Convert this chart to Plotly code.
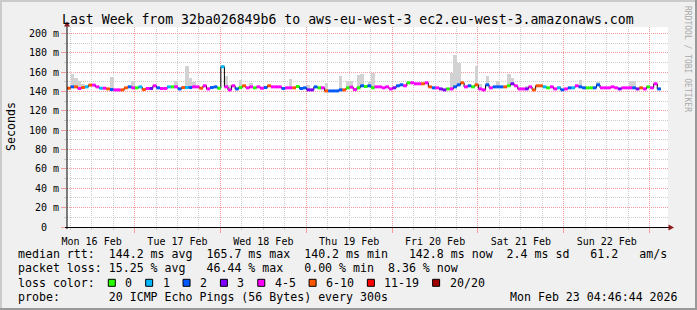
import plotly.graph_objects as go
import pandas as pd

# ---------------- data ----------------
title_text = "Last Week from 32ba026849b6 to aws-eu-west-3 ec2.eu-west-3.amazonaws.com"
start = pd.Timestamp("2026-02-16 05:07")
end = start + pd.Timedelta(days=7)

# hourly median rtt (ms)
median = [
    143.5, 144.9, 144.9, 143.2, 144.2, 144.9, 146.7, 146.7, 144.9, 143.5,
    143.5, 142.8, 142.1, 141.8, 141.8, 141.8, 143.9, 144.9, 143.9, 143.9,
    144.9, 142.1, 143.2, 143.2, 146.0, 143.9, 143.2, 143.2, 144.9, 144.9,
    144.9, 142.8, 144.2, 144.2, 144.2, 144.9, 144.9, 143.5, 146.0, 142.8,
    144.2, 144.9, 143.5, 165.7, 144.9, 141.8, 146.0, 142.8, 144.2, 146.0,
    143.9, 144.9, 143.9, 144.9, 143.5, 144.2, 146.0, 144.9, 144.9, 144.9,
    143.2, 143.9, 143.9, 143.9, 145.3, 143.2, 143.9, 141.8, 141.8, 144.9,
    143.9, 143.9, 140.7, 140.7, 140.7, 140.7, 141.8, 141.8, 143.9, 144.6,
    142.1, 143.9, 146.0, 145.3, 146.0, 143.9, 144.9, 144.9, 143.9, 144.9,
    142.8, 143.9, 146.0, 147.0, 146.0, 149.1, 149.1, 148.1, 148.1, 148.1,
    149.1, 144.9, 143.9, 143.9, 142.8, 141.8, 142.8, 142.8, 144.9, 147.0,
    149.1, 144.9, 146.0, 144.9, 147.0, 142.8, 141.8, 147.0, 143.9, 144.9,
    144.9, 144.9, 144.9, 146.0, 148.1, 146.0, 142.8, 142.8, 142.8, 144.9,
    141.8, 146.0, 146.0, 144.9, 143.9, 144.9, 142.8, 143.9, 141.8, 142.8,
    143.9, 143.9, 146.0, 144.9, 143.9, 143.9, 143.9, 143.9, 147.0, 143.9,
    143.9, 143.9, 144.9, 143.9, 142.8, 143.9, 143.9, 143.9, 143.9, 142.8,
    143.9, 142.8, 144.9, 143.9, 148.1, 142.8,
]

# hourly loss class (index into loss_labels)
loss = [
    5, 2, 5, 4, 5, 1, 5, 4, 4, 1,
    4, 5, 2, 4, 4, 5, 5, 2, 4, 0,
    1, 5, 4, 3, 4, 2, 4, 4, 1, 0,
    4, 2, 5, 1, 2, 4, 4, 5, 4, 4,
    2, 2, 0, 1, 4, 4, 4, 2, 0, 5,
    4, 4, 0, 4, 4, 2, 5, 4, 4, 4,
    2, 4, 4, 5, 0, 2, 2, 3, 3, 2,
    0, 4, 5, 2, 2, 2, 2, 5, 0, 4,
    4, 0, 2, 0, 2, 0, 4, 4, 4, 4,
    4, 3, 2, 2, 4, 0, 4, 4, 4, 5,
    4, 5, 2, 4, 3, 3, 0, 4, 2, 2,
    5, 4, 2, 0, 5, 4, 4, 2, 4, 2,
    2, 2, 5, 0, 3, 4, 4, 4, 3, 4,
    5, 5, 5, 1, 0, 4, 4, 1, 2, 4,
    2, 1, 4, 2, 2, 0, 0, 2, 2, 4,
    4, 4, 4, 4, 3, 4, 4, 4, 2, 3,
    5, 4, 0, 4, 4, 2,
]

loss_labels = ["0", "1", "2", "3", "4-5", "6-10", "11-19", "20/20"]
loss_colors = ["#26ff00", "#00b8ff", "#0059ff", "#7e00ff",
               "#ff00ff", "#ff5500", "#ff0000", "#a10000"]

# smoke (spread of pings): hour index and top value (ms)
smoke_hour = [1, 2, 3, 4, 12, 18, 30, 33, 34, 35, 44, 45, 48, 51, 62, 67, 72,
              76, 78, 79, 81, 82, 84, 85, 107, 108, 109, 114, 115, 117, 120,
              123, 124, 128, 137, 143, 148, 157, 158]
smoke_top = [158.0, 154.0, 150.5, 147.7, 155.4, 150.5, 150.5, 166.5, 154.0,
             150.0, 155.8, 147.3, 152.4, 148.6, 153.0, 146.6, 148.6, 155.8,
             150.5, 150.7, 157.5, 158.0, 149.7, 159.7, 159.5, 178.3, 169.5,
             166.5, 148.0, 156.0, 150.7, 158.3, 154.5, 146.0, 146.0, 151.5,
             150.0, 150.5, 150.5]

ytick_vals = [0, 20, 40, 60, 80, 100, 120, 140, 160, 180, 200]
ytick_text = ["0\u00a0\u00a0", "20 m", "40 m", "60 m", "80 m", "100 m",
              "120 m", "140 m", "160 m", "180 m", "200 m"]
yminor_vals = [10, 30, 50, 70, 90, 110, 130, 150, 170, 190]

legend_lines = [
    "median rtt:  144.2 ms avg  165.7 ms max  140.2 ms min   142.8 ms now  2.4 ms sd   61.2   am/s",
    "packet loss: 15.25 % avg   46.44 % max   0.00 % min  8.36 % now",
]
loss_caption = "loss color:"
probe_line = "probe:       20 ICMP Echo Pings (56 Bytes) every 300s"
stamp = "Mon Feb 23 04:46:44 2026"

# ---------------- figure ----------------
W, H = 697, 310
ML, MR, MT, MB = 67, 29, 27, 83
PW, PH = W - ML - MR, H - MT - MB
FONT = "DejaVu Sans Mono"


def px(x):
    return (x - ML) / PW


def py(y):
    return 1 - (y - MT) / PH


n = len(median)
edges = [start + pd.Timedelta(hours=i) for i in range(n + 1)]

# minor (6-hourly, not at midnight) grid positions
day0 = start.normalize()
xminor_vals = [day0 + pd.Timedelta(hours=h) for h in range(0, 8 * 24, 6)
               if h % 24 != 0]
xminor_vals = [t for t in xminor_vals if start <= t <= end]

fig = go.Figure()

# smoke
fig.add_trace(go.Bar(
    x=[edges[h] + pd.Timedelta(minutes=30) for h in smoke_hour],
    base=[median[h] for h in smoke_hour],
    y=[t - median[h] for h, t in zip(smoke_hour, smoke_top)],
    width=3600 * 1000,
    marker=dict(color="#d2d2d2", line=dict(width=0)),
    hoverinfo="skip", showlegend=False,
))

# black median step line
fig.add_trace(go.Scatter(
    x=edges, y=median + [median[-1]], mode="lines",
    line=dict(color="#000000", width=1, shape="hv"),
    hoverinfo="skip", showlegend=False,
))

# coloured segments by loss
for c, col in enumerate(loss_colors):
    xs, ys = [], []
    for i in range(n):
        if loss[i] == c:
            xs += [edges[i], edges[i + 1], None]
            ys += [median[i], median[i], None]
    if xs:
        fig.add_trace(go.Scatter(
            x=xs, y=ys, mode="lines", line=dict(color=col, width=3),
            hoverinfo="skip", showlegend=False,
        ))

MAJ = "#f59a9a"
MIN = "#cccccc"

fig.update_xaxes(
    type="date", range=[start, end],
    dtick=86400000, tick0="2026-02-16", tickformat="%a %d %b",
    ticklabelmode="period",
    showgrid=True, gridcolor=MAJ, griddash="1px,1px", gridwidth=1,
    ticks="outside", ticklen=5, tickcolor=MAJ,
    tickfont=dict(family=FONT, size=10, color="#000"),
    minor=dict(tickmode="array", tickvals=xminor_vals, showgrid=True,
               gridcolor=MIN, griddash="1px,1px", ticks="outside",
               ticklen=2, tickcolor=MIN),
    showline=False, zeroline=False,
)
fig.update_yaxes(
    range=[0, 206.8], tickmode="array", tickvals=ytick_vals, ticktext=ytick_text,
    showgrid=True, gridcolor=MAJ, griddash="1px,1px", gridwidth=1,
    ticks="outside", ticklen=5, tickcolor=MAJ,
    tickfont=dict(family=FONT, size=10, color="#000"),
    minor=dict(tickmode="array", tickvals=yminor_vals, showgrid=True,
               gridcolor=MIN, griddash="1px,1px", ticks="outside",
               ticklen=2, tickcolor=MIN),
    showline=False, zeroline=False,
)

shapes = []
# axes with arrows
shapes.append(dict(type="line", xref="paper", yref="paper",
                   x0=px(67), x1=px(67), y0=py(229), y1=py(25),
                   line=dict(color="#000", width=1)))
shapes.append(dict(type="line", xref="paper", yref="paper",
                   x0=px(65), x1=px(669), y0=py(227.5), y1=py(227.5),
                   line=dict(color="#000", width=1)))
shapes.append(dict(type="path", xref="paper", yref="paper",
                   path=f"M {px(67)},{py(21.5)} L {px(64)},{py(26.5)} L {px(70)},{py(26.5)} Z",
                   fillcolor="#8b1a1a", line=dict(color="#8b1a1a", width=0)))
shapes.append(dict(type="path", xref="paper", yref="paper",
                   path=f"M {px(674)},{py(227.5)} L {px(668.5)},{py(224.5)} L {px(668.5)},{py(230.5)} Z",
                   fillcolor="#8b1a1a", line=dict(color="#8b1a1a", width=0)))
# 3D frame
shapes.append(dict(type="line", xref="paper", yref="paper", x0=px(0), x1=px(W),
                   y0=py(1), y1=py(1), line=dict(color="#cbcbcb", width=2)))
shapes.append(dict(type="line", xref="paper", yref="paper", x0=px(1), x1=px(1),
                   y0=py(0), y1=py(H), line=dict(color="#cbcbcb", width=2)))
shapes.append(dict(type="line", xref="paper", yref="paper", x0=px(0), x1=px(W),
                   y0=py(H - 1), y1=py(H - 1), line=dict(color="#999999", width=2)))
shapes.append(dict(type="line", xref="paper", yref="paper", x0=px(W - 1), x1=px(W - 1),
                   y0=py(0), y1=py(H), line=dict(color="#999999", width=2)))

annotations = []


def txt(x, y, s, size=11.6, xanchor="left", color="#000", angle=0):
    annotations.append(dict(
        xref="paper", yref="paper", x=px(x), y=py(y), text=s.replace(" ", "\u00a0"),
        showarrow=False, xanchor=xanchor, yanchor="middle", textangle=angle,
        font=dict(family=FONT, size=size, color=color),
    ))


txt(348, 19.5, title_text, size=13.2, xanchor="center")
txt(11, 127, "Seconds", size=11.6, xanchor="center", angle=-90)
txt(688, 59, "RRDTOOL / TOBI OETIKER", size=8, xanchor="center",
    color="#aaaaaa", angle=90)
txt(16, 254.3, legend_lines[0])
txt(16, 268.3, legend_lines[1])
txt(16, 282.7, loss_caption)
txt(16, 296.7, probe_line)
txt(680, 296.7, stamp, xanchor="right")

cw = 6.97
bx = 108.3
for lab, col in zip(loss_labels, loss_colors):
    shapes.append(dict(type="rect", xref="paper", yref="paper",
                       x0=px(bx), x1=px(bx + 7), y0=py(279.3), y1=py(286.3),
                       fillcolor=col, line=dict(color="#000", width=1)))
    lx = bx + 15
    txt(lx, 282.7, lab)
    bx = lx + cw * len(lab) + 15.4

fig.update_layout(
    width=W, height=H,
    margin=dict(l=ML, r=MR, t=MT, b=MB, pad=0),
    paper_bgcolor="#f0f0f0", plot_bgcolor="#ffffff",
    bargap=0, barmode="overlay", showlegend=False,
    shapes=shapes, annotations=annotations,
    font=dict(family=FONT),
)

fig.write_html("out.html")
